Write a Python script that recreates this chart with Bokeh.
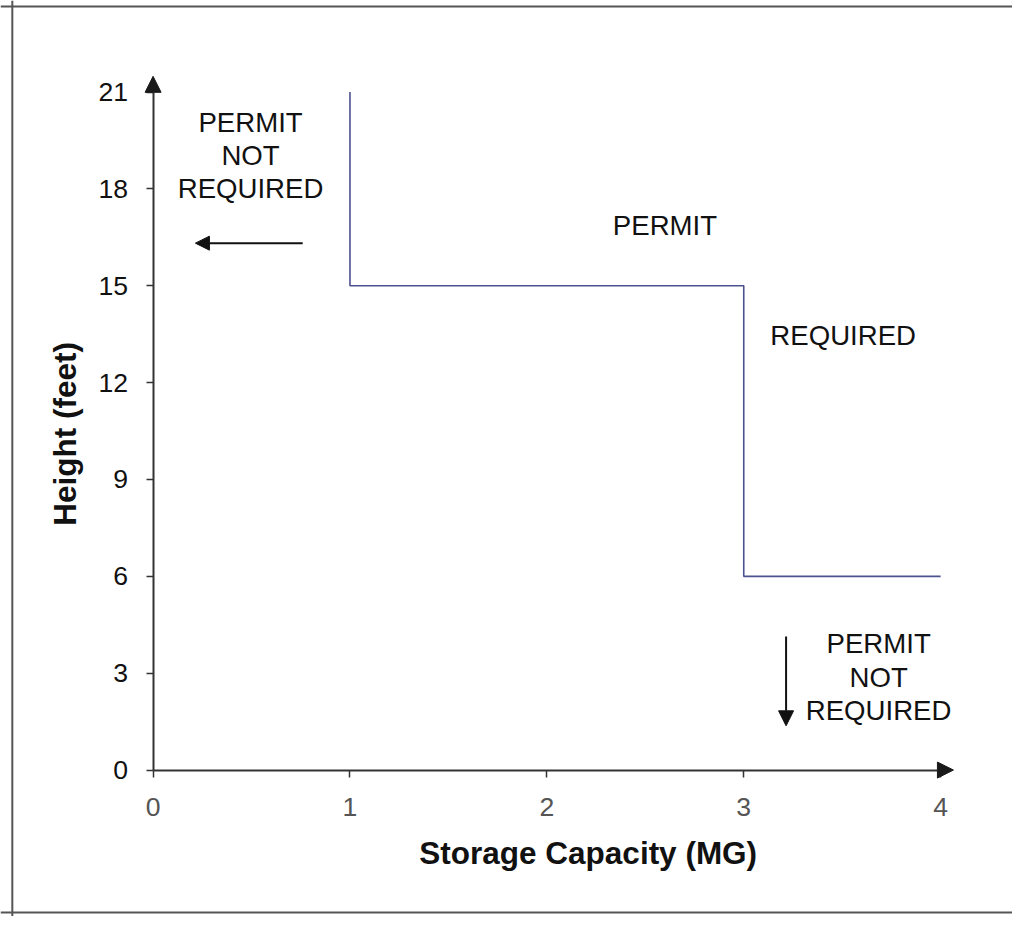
import math
from bokeh.plotting import figure
from bokeh.models import (LinearAxis, FixedTicker, Arrow, NormalHead, Span,
                          Range1d, ColumnDataSource, Label, Grid)
from bokeh.core.properties import value
from bokeh.embed import file_html
from bokeh.resources import INLINE

# ---------------- data ----------------
capacity = [1, 1, 3, 3, 4]          # Storage capacity (MG)
height = [21, 15, 15, 6, 6]         # Height (feet)
x_ticks = [0, 1, 2, 3, 4]
y_ticks = [0, 3, 6, 9, 12, 15, 18, 21]
x_title = "Storage Capacity (MG)"
y_title = "Height (feet)"
note_text = ["PERMIT", "NOT", "REQUIRED", "PERMIT", "REQUIRED",
             "PERMIT", "NOT", "REQUIRED"]
note_x = [0.495, 0.495, 0.495, 2.60, 3.505, 3.685, 3.685, 3.685]
note_y = [20.06, 19.05, 18.02, 16.86, 13.45, 3.92, 2.86, 1.85]

# ---------------- layout ----------------
W, H = 1012, 916
S = W / 1028.0                      # overall scale vs. reference canvas
PX_X = 200.0 * W / 1028.0           # pixels per MG
PX_Y = 32.85 * H / 932.0            # pixels per foot
x0 = -155 / 200.0
x1 = x0 + 1028 / 200.0
y1 = 783 / 32.85
y0 = y1 - 932 / 32.85

FONT = "Liberation Sans"

def fs(px):
    return "%.1fpx" % (px * S)

p = figure(width=W, height=H, x_range=Range1d(x0, x1), y_range=Range1d(y0, y1),
           output_backend="svg", toolbar_location=None,
           x_axis_location=None, y_axis_location=None,
           min_border=0, min_border_left=0, min_border_right=0,
           min_border_top=0, min_border_bottom=0)
p.title.visible = False
p.outline_line_color = None
p.background_fill_color = "white"
p.border_fill_color = "white"
p.renderers = [r for r in p.renderers if not isinstance(r, Grid)]
p.center = [r for r in p.center if not isinstance(r, Grid)]

# axes through the origin
xaxis = LinearAxis(fixed_location=0, bounds=(x_ticks[0], x_ticks[-1]),
                   ticker=FixedTicker(ticks=x_ticks))
yaxis = LinearAxis(fixed_location=0, bounds=(y_ticks[0], y_ticks[-1]),
                   ticker=FixedTicker(ticks=y_ticks))
for ax in (xaxis, yaxis):
    ax.axis_line_color = "#333333"
    ax.axis_line_width = 2
    ax.major_tick_line_color = "#333333"
    ax.major_tick_line_width = 1.5
    ax.major_tick_in = 0
    ax.major_tick_out = 7
    ax.minor_tick_line_color = None
    ax.major_label_text_font = FONT
    ax.major_label_text_font_size = fs(27)
xaxis.major_label_text_color = "#555555"
xaxis.major_label_standoff = 21
yaxis.major_label_text_color = "#111111"
yaxis.major_label_standoff = 18
p.add_layout(xaxis, "below")
p.add_layout(yaxis, "left")

# axis arrowheads
x_tip = x_ticks[-1] + 13 / 200.0
y_tip = y_ticks[-1] + 16 / 32.85
p.add_layout(Arrow(x_start=x_ticks[-1], y_start=0, x_end=x_tip, y_end=0,
                   line_color="#333333", line_width=2,
                   end=NormalHead(size=16, fill_color="#1a1a1a", line_color="#1a1a1a", line_width=1)))
p.add_layout(Arrow(x_start=0, y_start=y_ticks[-1], x_end=0, y_end=y_tip,
                   line_color="#333333", line_width=2,
                   end=NormalHead(size=16, fill_color="#1a1a1a", line_color="#1a1a1a", line_width=1)))

# step boundary line
p.line(capacity, height, line_color="#4d5290", line_width=1.6)

# notes
src = ColumnDataSource(dict(x=note_x, y=note_y, text=note_text))
p.text(x="x", y="y", text="text", source=src, text_font=value(FONT),
       text_font_size=fs(28), text_align="center", text_baseline="alphabetic",
       text_color="#111111")

# pointer arrows
p.add_layout(Arrow(x_start=0.76, y_start=16.32, x_end=0.215, y_end=16.32,
                   line_color="#111111", line_width=2,
                   end=NormalHead(size=14, fill_color="#111111", line_color="#111111", line_width=1)))
p.add_layout(Arrow(x_start=3.215, y_start=4.14, x_end=3.215, y_end=1.37,
                   line_color="#111111", line_width=2,
                   end=NormalHead(size=15, fill_color="#111111", line_color="#111111", line_width=1)))

# axis titles
p.add_layout(Label(x=2.21, y=-2.58, text=x_title, text_font=FONT,
                   text_font_size=fs(32), text_font_style="bold",
                   text_align="center", text_baseline="alphabetic",
                   text_color="#111111"))
p.add_layout(Label(x=-0.448, y=10.41, text=y_title, text_font=FONT,
                   text_font_size=fs(32), text_font_style="bold",
                   text_align="center", text_baseline="alphabetic",
                   angle=math.pi / 2, text_color="#111111"))

# outer frame (left, top, bottom)
p.add_layout(Span(location=(12 - 155) / 200.0, dimension="height",
                  line_color="#555555", line_width=2))
p.add_layout(Span(location=(783 - 6) / 32.85, dimension="width",
                  line_color="#555555", line_width=2))
p.add_layout(Span(location=(783 - 928) / 32.85, dimension="width",
                  line_color="#555555", line_width=2))

open("out.html", "w").write(file_html(p, INLINE))
